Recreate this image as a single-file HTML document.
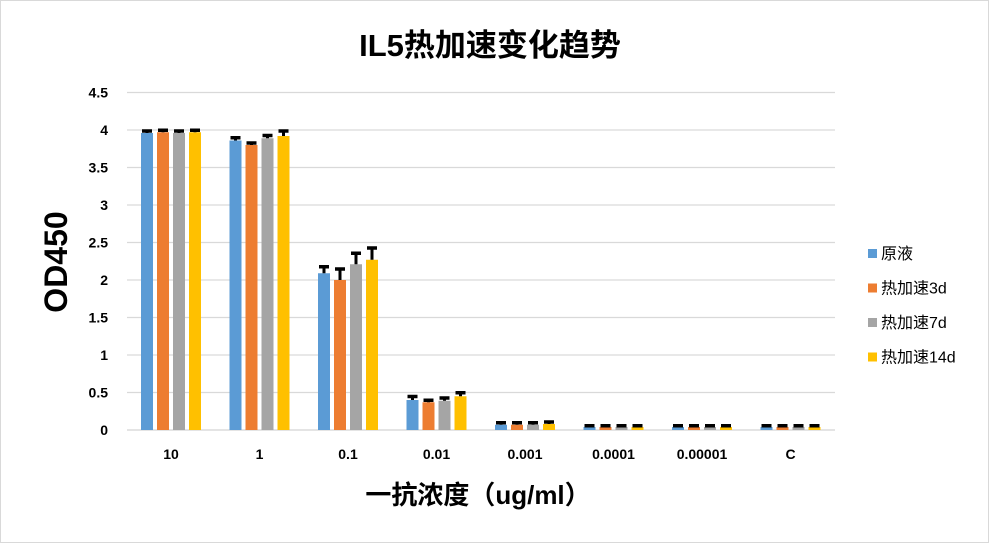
<!DOCTYPE html>
<html><head><meta charset="utf-8"><style>
body{margin:0;background:#fff;font-family:"Liberation Sans","Noto Sans CJK SC",sans-serif}
svg text{font-family:"Liberation Sans","Noto Sans CJK SC",sans-serif}
</style></head><body>
<svg id="chart" width="989" height="543">
<rect x="0.5" y="0.5" width="988" height="542" fill="#fff" stroke="#d9d9d9"/>
<text x="490" y="56" text-anchor="middle" font-size="31" font-weight="bold">IL5热加速变化趋势</text>
<text transform="translate(67,262) rotate(-90)" text-anchor="middle" font-size="32" font-weight="bold">OD450</text>
<text x="478" y="504" text-anchor="middle" font-size="26" font-weight="bold">一抗浓度（ug/ml）</text>
<g id="grid"></g><g id="bars"></g><g id="legend"></g>
</svg>
<script>
const categories=["10","1","0.1","0.01","0.001","0.0001","0.00001","C"];
const seriesNames=["原液","热加速3d","热加速7d","热加速14d"];
const colors=["#5b9bd5","#ed7d31","#a5a5a5","#ffc000"];
const s0=[3.96,3.86,2.09,0.40,0.07,0.04,0.04,0.04];
const s1=[3.97,3.80,2.00,0.37,0.07,0.04,0.04,0.04];
const s2=[3.96,3.89,2.21,0.39,0.07,0.04,0.04,0.04];
const s3=[3.97,3.92,2.27,0.45,0.08,0.04,0.04,0.04];
const e0=[0.03,0.04,0.09,0.05,0.03,0.02,0.02,0.02];
const e1=[0.03,0.03,0.15,0.03,0.03,0.02,0.02,0.02];
const e2=[0.03,0.04,0.15,0.04,0.03,0.02,0.02,0.02];
const e3=[0.03,0.07,0.16,0.05,0.03,0.02,0.02,0.02];
const yTicks=[0,0.5,1,1.5,2,2.5,3,3.5,4,4.5];
const yTickLabels=["0","0.5","1","1.5","2","2.5","3","3.5","4","4.5"];
const series=[s0,s1,s2,s3], errs=[e0,e1,e2,e3];
const NS="http://www.w3.org/2000/svg";
const y=v=>430-v*75;
const x=i=>171+i*88.5;
function mk(tag,attrs,parent){const e=document.createElementNS(NS,tag);for(const k in attrs)e.setAttribute(k,attrs[k]);parent.appendChild(e);return e;}
const grid=document.getElementById('grid');
yTicks.forEach((t,i)=>{
  const l=mk('line',{x1:127,x2:835,y1:y(t),y2:y(t),stroke:'#d9d9d9','stroke-width':1.3},grid);
  
  
  const tx=mk('text',{x:108,y:y(t)+5,'text-anchor':'end','font-size':14,'font-weight':'bold'},grid);
  tx.textContent=yTickLabels[i];
  
  
});
categories.forEach((c,i)=>{
  const tx=mk('text',{x:x(i),y:459,'text-anchor':'middle','font-size':14,'font-weight':'bold'},grid);
  tx.textContent=c;
  
  
});
const bars=document.getElementById('bars');
series.forEach((s,si)=>{
  s.forEach((v,i)=>{
    const bx=x(i)-30+si*16;
    const r=mk('rect',{x:bx,y:y(v),width:12,height:430-y(v),fill:colors[si]},bars);
    
    
    const top=y(v+errs[si][i]);
    const st=mk('rect',{x:bx+4.5,y:top,width:3,height:y(v)-top,fill:'#000'},bars);
    
    
    const cp=mk('rect',{x:bx+1,y:top-1.5,width:10,height:3.5,fill:'#000'},bars);
    
    
  });
});
const lg=document.getElementById('legend');
seriesNames.forEach((n,i)=>{
  const yy=254+i*34.5;
  const r=mk('rect',{x:868,y:yy-5,width:9,height:9,fill:colors[i]},lg);
  
  
  const t=mk('text',{x:881,y:yy+5,'font-size':16},lg);
  t.textContent=n;
  
  
});
mk('line',{x1:127,x2:835,y1:430,y2:430,stroke:'#d9d9d9','stroke-width':1.3},grid);
</script>
</body></html>
